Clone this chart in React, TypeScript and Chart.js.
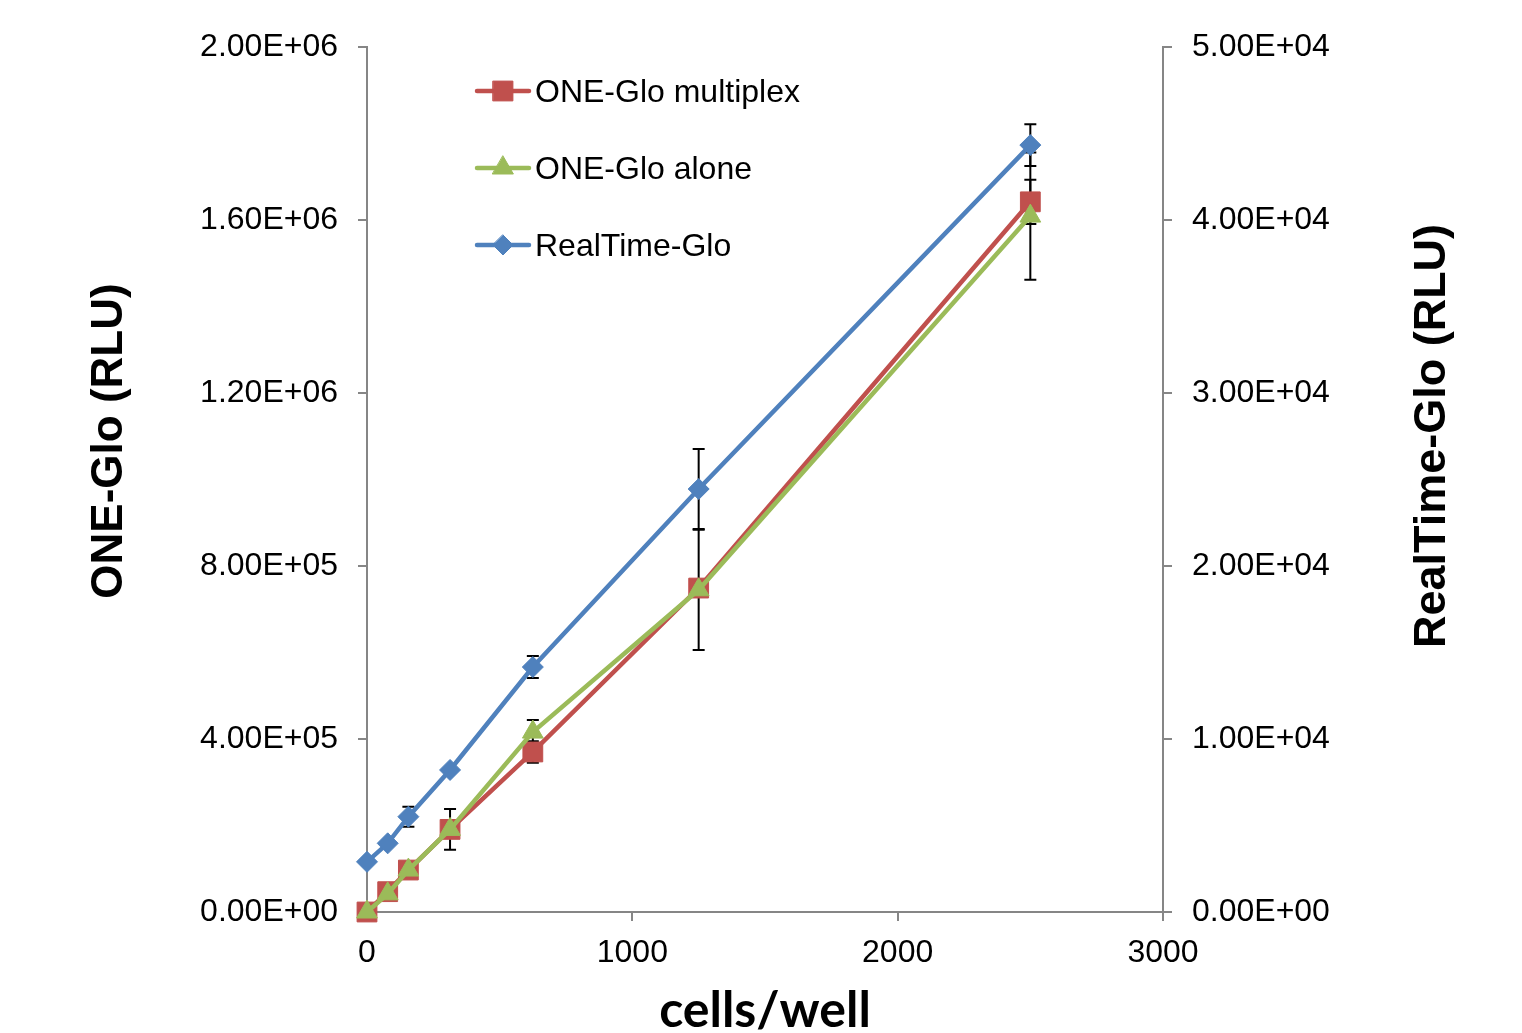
import React, { useEffect, useRef } from 'react';
import { Chart, registerables } from 'chart.js';

Chart.register(...registerables);

const cellsPerWell = [0, 78, 156, 313, 625, 1250, 2500];
const oneGloMultiplex = [0, 47000, 97000, 191000, 370000, 749000, 1642000];
const oneGloMultiplexErr = [0, 0, 0, 12000, 25000, 15000, 51000];
const oneGloAlone = [0, 42000, 97000, 191000, 416000, 745000, 1609000];
const oneGloAloneErr = [0, 0, 0, 47000, 28000, 139000, 147000];
const realTimeGlo = [2900, 3970, 5510, 8210, 14160, 24450, 44330];
const realTimeGloErr = [0, 0, 580, 0, 640, 2310, 1210];

const xTicks = [0, 1000, 2000, 3000];
const leftTicks = [0, 400000, 800000, 1200000, 1600000, 2000000];
const rightTicks = [0, 10000, 20000, 30000, 40000, 50000];

const legendLabels = ['ONE-Glo multiplex', 'ONE-Glo alone', 'RealTime-Glo'];
const xTitle = 'cells/well';
const leftTitle = 'ONE-Glo (RLU)';
const rightTitle = 'RealTime-Glo (RLU)';

const RED = '#C0504D';
const GREEN = '#9BBB59';
const BLUE = '#4F81BD';
const AXIS = '#868686';
const SANS = '"Liberation Sans", Arial, sans-serif';

function sci(v: number): string {
  if (v === 0) return '0.00E+00';
  let e = Math.floor(Math.log10(Math.abs(v)) + 1e-9);
  let m = v / Math.pow(10, e);
  return m.toFixed(2) + 'E' + (e < 0 ? '-' : '+') + String(Math.abs(e)).padStart(2, '0');
}

function pts(ys: number[]) {
  return cellsPerWell.map((x, i) => ({ x, y: ys[i] }));
}

function drawMarker(ctx: CanvasRenderingContext2D, style: string, x: number, y: number, r: number, color: string) {
  ctx.save();
  ctx.fillStyle = color;
  ctx.strokeStyle = color;
  ctx.lineWidth = 1;
  ctx.beginPath();
  if (style === 'rect') {
    const s = r * Math.SQRT1_2;
    ctx.rect(x - s, y - s, 2 * s, 2 * s);
  } else if (style === 'triangle') {
    ctx.moveTo(x, y - r);
    ctx.lineTo(x + r * Math.sin(Math.PI / 3), y + r / 2);
    ctx.lineTo(x - r * Math.sin(Math.PI / 3), y + r / 2);
    ctx.closePath();
  } else {
    ctx.moveTo(x, y - r);
    ctx.lineTo(x + r, y);
    ctx.lineTo(x, y + r);
    ctx.lineTo(x - r, y);
    ctx.closePath();
  }
  ctx.fill();
  ctx.stroke();
  ctx.restore();
}

const errorBarPlugin = {
  id: 'errorBars',
  beforeDatasetsDraw(chart: any) {
    const ctx: CanvasRenderingContext2D = chart.ctx;
    ctx.save();
    ctx.strokeStyle = '#000';
    ctx.lineWidth = 2;
    chart.data.datasets.forEach((ds: any) => {
      const errs: number[] = ds.errors || [];
      const ys = chart.scales[ds.yAxisID];
      const xs = chart.scales.x;
      ds.data.forEach((p: any, i: number) => {
        const e = errs[i];
        if (!e) return;
        const px = xs.getPixelForValue(p.x);
        const top = ys.getPixelForValue(p.y + e);
        const bot = ys.getPixelForValue(p.y - e);
        ctx.beginPath();
        ctx.moveTo(px, top);
        ctx.lineTo(px, bot);
        ctx.moveTo(px - 6, top);
        ctx.lineTo(px + 6, top);
        ctx.moveTo(px - 6, bot);
        ctx.lineTo(px + 6, bot);
        ctx.stroke();
      });
    });
    ctx.restore();
  },
};

const decorPlugin = {
  id: 'decor',
  afterDraw(chart: any) {
    const ctx: CanvasRenderingContext2D = chart.ctx;
    const area = chart.chartArea;
    ctx.save();
    // legend
    const items = [
      { label: legendLabels[0], color: RED, style: 'rect', r: 14 },
      { label: legendLabels[1], color: GREEN, style: 'triangle', r: 12 },
      { label: legendLabels[2], color: BLUE, style: 'rectRot', r: 10 },
    ];
    const rowY = [91, 168, 245];
    items.forEach((it, i) => {
      const y = rowY[i];
      ctx.strokeStyle = it.color;
      ctx.lineWidth = 4.5;
      ctx.lineCap = 'round';
      ctx.beginPath();
      ctx.moveTo(477, y);
      ctx.lineTo(529, y);
      ctx.stroke();
      drawMarker(ctx, it.style, 503, y, it.r, it.color);
      ctx.fillStyle = '#000';
      ctx.font = '32px ' + SANS;
      ctx.textAlign = 'left';
      ctx.textBaseline = 'alphabetic';
      ctx.fillText(it.label, 535, y + 11);
    });
    // axis titles
    ctx.fillStyle = '#000';
    ctx.textAlign = 'center';
    ctx.textBaseline = 'alphabetic';
    ctx.save();
    ctx.translate(122, 441);
    ctx.rotate(-Math.PI / 2);
    ctx.font = 'bold 44px ' + SANS;
    ctx.fillText(leftTitle, 0, 0);
    ctx.restore();
    ctx.save();
    ctx.translate(1445, 436);
    ctx.rotate(-Math.PI / 2);
    ctx.font = 'bold 45px ' + SANS;
    ctx.fillText(rightTitle, 0, 0);
    ctx.restore();
    ctx.font = 'bold 50px Lato, "Open Sans", sans-serif';
    ctx.fillText(xTitle, (area.left + area.right) / 2, 1027);
    ctx.restore();
  },
};

function axisCommon(ticksArr: number[], padding: number) {
  return {
    grid: { display: true, drawOnChartArea: false, drawTicks: true, tickLength: 9, color: AXIS, lineWidth: 2 },
    border: { display: true, color: AXIS, width: 2 },
    ticks: {
      color: '#000',
      font: { family: SANS, size: 32 },
      padding,
      autoSkip: false,
      maxRotation: 0,
      callback: (v: any) => sci(Number(v)),
    },
    afterBuildTicks: (scale: any) => {
      scale.ticks = ticksArr.map((v) => ({ value: v }));
    },
  };
}

export default function App() {
  const ref = useRef<HTMLCanvasElement | null>(null);
  useEffect(() => {
    if (!ref.current) return;
    const xAxis: any = axisCommon(xTicks, 13);
    xAxis.ticks.callback = (v: any) => String(v);
    const common = { pointBorderWidth: 1, borderWidth: 4.5, clip: false as any };
    const chart = new Chart(ref.current, {
      type: 'line',
      data: {
        datasets: [
          {
            label: legendLabels[1],
            data: pts(oneGloAlone),
            errors: oneGloAloneErr,
            borderColor: GREEN,
            backgroundColor: GREEN,
            pointBackgroundColor: GREEN,
            pointBorderColor: GREEN,
            pointStyle: 'triangle',
            pointRadius: 12,
            yAxisID: 'y',
            order: 0,
            ...common,
          } as any,
          {
            label: legendLabels[0],
            data: pts(oneGloMultiplex),
            errors: oneGloMultiplexErr,
            borderColor: RED,
            backgroundColor: RED,
            pointBackgroundColor: RED,
            pointBorderColor: RED,
            pointStyle: 'rect',
            pointRadius: 14,
            yAxisID: 'y',
            order: 1,
            ...common,
          } as any,
          {
            label: legendLabels[2],
            data: pts(realTimeGlo),
            errors: realTimeGloErr,
            borderColor: BLUE,
            backgroundColor: BLUE,
            pointBackgroundColor: BLUE,
            pointBorderColor: BLUE,
            pointStyle: 'rectRot',
            pointRadius: 10.5,
            yAxisID: 'y2',
            order: 2,
            ...common,
          } as any,
        ],
      },
      options: {
        animation: false,
        responsive: false,
        devicePixelRatio: 1,
        layout: { padding: { top: 47, left: 0, right: 0, bottom: 0 } },
        plugins: { legend: { display: false }, tooltip: { enabled: false } },
        elements: { line: { tension: 0 } },
        scales: {
          x: {
            type: 'linear',
            position: 'bottom',
            min: 0,
            max: 3000,
            ...xAxis,
            afterFit: (s: any) => {
              s.height = 121;
            },
          },
          y: {
            type: 'linear',
            position: 'left',
            min: 0,
            max: 2000000,
            ...axisCommon(leftTicks, 20),
            afterFit: (s: any) => {
              s.width = 367;
            },
          },
          y2: {
            type: 'linear',
            position: 'right',
            min: 0,
            max: 50000,
            ...axisCommon(rightTicks, 20),
            afterFit: (s: any) => {
              s.width = 359;
            },
          },
        },
      } as any,
      plugins: [errorBarPlugin, decorPlugin],
    });
    return () => chart.destroy();
  }, []);
  return (
    <div style={{ position: 'fixed', left: 0, top: 0, width: 1522, height: 1033, background: '#fff' }}>
      <canvas ref={ref} width={1522} height={1033} style={{ width: 1522, height: 1033 }} />
    </div>
  );
}
